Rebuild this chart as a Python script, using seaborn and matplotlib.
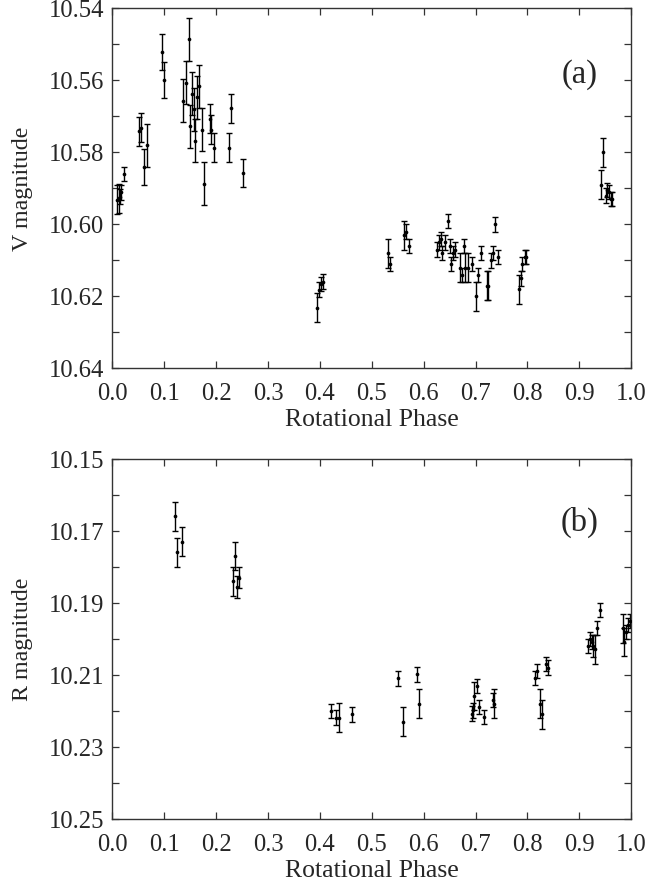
import numpy as np
import pandas as pd
import matplotlib
matplotlib.use("Agg")
import matplotlib.pyplot as plt
import seaborn as sns
from matplotlib.ticker import MultipleLocator, FixedLocator

# ---------------- data: panel (a) V band ----------------
v_phase = [0.009, 0.012, 0.014, 0.017, 0.022,
           0.052, 0.055, 0.060, 0.066,
           0.095, 0.099,
           0.136, 0.142, 0.147, 0.150, 0.154, 0.157, 0.160, 0.163, 0.167, 0.173, 0.176,
           0.188, 0.191, 0.195, 0.224, 0.228, 0.252,
           0.394, 0.399, 0.403, 0.406,
           0.532, 0.536, 0.563, 0.566, 0.572,
           0.626, 0.629, 0.633, 0.636, 0.641, 0.646, 0.650, 0.653, 0.657, 0.661,
           0.670, 0.673, 0.678, 0.679, 0.685, 0.693, 0.701, 0.705, 0.710,
           0.722, 0.725, 0.730, 0.733, 0.738, 0.743,
           0.784, 0.788, 0.790, 0.795, 0.798,
           0.942, 0.946, 0.951, 0.954, 0.957, 0.961, 0.964]
v_mag = [10.5931, 10.5927, 10.5923, 10.5911, 10.5860,
         10.5741, 10.5731, 10.5840, 10.5780,
         10.5520, 10.5600,
         10.5656, 10.5606, 10.5486, 10.5727, 10.5637, 10.5680, 10.5767, 10.5647, 10.5616, 10.5737, 10.5887,
         10.5706, 10.5737, 10.5787, 10.5787, 10.5677, 10.5857,
         10.6231, 10.6181, 10.6165, 10.6159,
         10.6080, 10.6110, 10.6030, 10.6020, 10.6060,
         10.6070, 10.6050, 10.6040, 10.6080, 10.6050, 10.5990, 10.6060, 10.6110, 10.6080, 10.6070,
         10.6120, 10.6140, 10.6060, 10.6120, 10.6120, 10.6110, 10.6200, 10.6140, 10.6080,
         10.6170, 10.6170, 10.6100, 10.6080, 10.6000, 10.6090,
         10.6180, 10.6150, 10.6110, 10.6090, 10.6090,
         10.5890, 10.5800, 10.5920, 10.5905, 10.5910, 10.5930, 10.5930]
v_err = [0.004, 0.004, 0.002, 0.002, 0.002,
         0.004, 0.004, 0.005, 0.006,
         0.005, 0.005,
         0.006, 0.006, 0.006, 0.006, 0.006, 0.006, 0.006, 0.006, 0.006, 0.006, 0.006,
         0.004, 0.004, 0.004, 0.004, 0.004, 0.004,
         0.004, 0.002, 0.002, 0.002,
         0.004, 0.002, 0.004, 0.002, 0.002,
         0.002, 0.002, 0.002, 0.002, 0.002, 0.002, 0.002, 0.002, 0.002, 0.002,
         0.004, 0.002, 0.002, 0.004, 0.004, 0.002, 0.004, 0.002, 0.002,
         0.004, 0.004, 0.002, 0.002, 0.002, 0.002,
         0.004, 0.002, 0.002, 0.002, 0.002,
         0.004, 0.004, 0.002, 0.002, 0.002, 0.002, 0.002]

# ---------------- data: panel (b) R band ----------------
r_phase = [0.121, 0.125, 0.134,
           0.233, 0.236, 0.241, 0.245,
           0.421, 0.431, 0.436, 0.461,
           0.551, 0.560, 0.587, 0.591,
           0.693, 0.695, 0.698, 0.702, 0.707, 0.717, 0.733, 0.736,
           0.815, 0.819, 0.825, 0.828, 0.835, 0.839,
           0.917, 0.920, 0.924, 0.927, 0.931, 0.935, 0.940,
           0.984, 0.987, 0.990, 0.993, 0.997]
r_mag = [10.1659, 10.1759, 10.1729,
         10.1839, 10.1769, 10.1856, 10.1829,
         10.2199, 10.2218, 10.2218, 10.2209,
         10.2109, 10.2230, 10.2098, 10.2179,
         10.2207, 10.2198, 10.2158, 10.2130, 10.2188, 10.2217, 10.2169, 10.2179,
         10.2108, 10.2089, 10.2179, 10.2209, 10.2070, 10.2079,
         10.2019, 10.2000, 10.2008, 10.2019, 10.2028, 10.1970, 10.1919,
         10.1970, 10.2008, 10.1980, 10.1960, 10.1949]
r_err = [0.004, 0.004, 0.004,
         0.004, 0.004, 0.003, 0.003,
         0.002, 0.002, 0.004, 0.002,
         0.002, 0.004, 0.002, 0.004,
         0.002, 0.002, 0.004, 0.002, 0.002, 0.002, 0.002, 0.004,
         0.002, 0.002, 0.004, 0.004, 0.002, 0.002,
         0.002, 0.002, 0.002, 0.003, 0.004, 0.002, 0.002,
         0.004, 0.004, 0.002, 0.002, 0.002]

x_ticks = [0.0, 0.1, 0.2, 0.3, 0.4, 0.5, 0.6, 0.7, 0.8, 0.9, 1.0]
v_ticklabels = ["10.54", "10.56", "10.58", "10.60", "10.62", "10.64"]
r_ticklabels = ["10.15", "10.17", "10.19", "10.21", "10.23", "10.25"]

sns.set_style("ticks")
plt.rcParams['font.family'] = ['Liberation Serif', 'DejaVu Serif']

fig = plt.figure(figsize=(6.46, 8.82), dpi=100)
ax_a = fig.add_axes([0.174, 0.5824, 0.803, 0.408])
ax_b = fig.add_axes([0.174, 0.0714, 0.803, 0.408])

dfa = pd.DataFrame({"phase": v_phase, "mag": v_mag, "err": v_err})
dfb = pd.DataFrame({"phase": r_phase, "mag": r_mag, "err": r_err})


def draw(ax, df, ylabel, ticklabels, ylim, tag, tag_y):
    ax.errorbar(df["phase"], df["mag"], yerr=df["err"], fmt='none',
                ecolor='black', elinewidth=1.0, capsize=2.5, capthick=1.0, zorder=2)
    sns.scatterplot(data=df, x="phase", y="mag", ax=ax, color='black', s=7,
                    marker='o', edgecolor='black', linewidth=0, zorder=3, legend=False)
    ax.set_xlim(0, 1.0)
    ax.set_ylim(*ylim)
    ax.xaxis.set_major_locator(FixedLocator(x_ticks))
    ax.set_xticklabels([f"{t:.1f}" for t in x_ticks])
    vals = [float(t) for t in ticklabels]
    ax.yaxis.set_major_locator(FixedLocator(vals))
    ax.set_yticklabels(ticklabels)
    ax.yaxis.set_minor_locator(MultipleLocator(0.01))
    ax.tick_params(axis='both', which='both', direction='in', top=True, right=True,
                   length=5, width=0.9, color='#333333', labelsize=17.7)
    ax.tick_params(axis='x', pad=10.5)
    ax.tick_params(axis='y', pad=6)
    ax.tick_params(axis='y', which='minor', length=5)
    for s in ax.spines.values():
        s.set_linewidth(1.0)
        s.set_color('#333333')
    ax.set_xlabel("Rotational Phase", fontsize=18.5, labelpad=3)
    ax.set_ylabel(ylabel, fontsize=17.3, labelpad=11)
    ax.text(0.9, tag_y, tag, transform=ax.transAxes, fontsize=23.5, ha='center', va='center')


draw(ax_a, dfa, "V magnitude", v_ticklabels, (10.64, 10.54), "(a)", 0.815)
draw(ax_b, dfb, "R magnitude", r_ticklabels, (10.25, 10.15), "(b)", 0.825)

fig.savefig("out.png", dpi=100)
